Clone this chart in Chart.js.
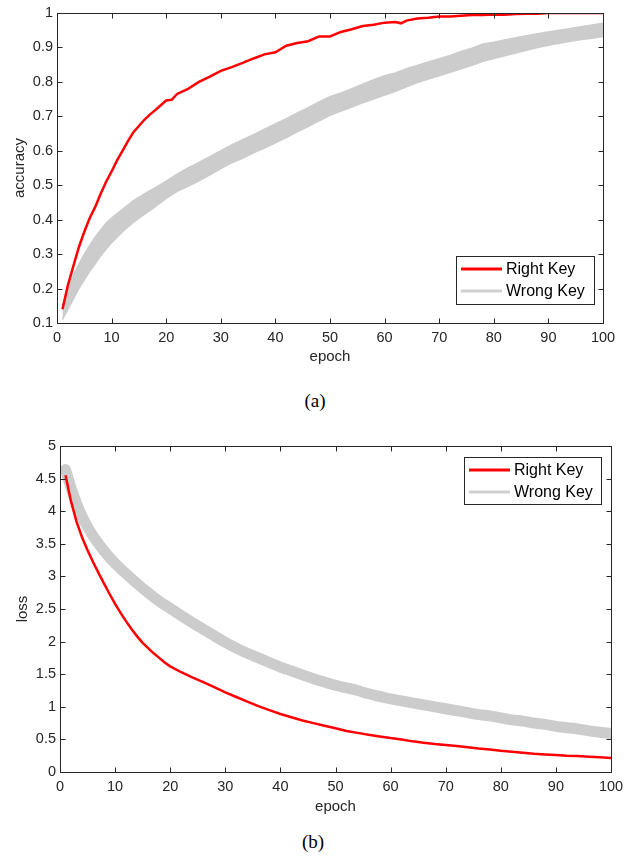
<!DOCTYPE html>
<html>
<head>
<meta charset="utf-8">
<title>Right key vs wrong key · accuracy and loss per epoch</title>
<script src="https://cdn.jsdelivr.net/npm/chart.js@4.4.1/dist/chart.umd.min.js"></script>
<style>
  html, body { margin: 0; padding: 0; background: #fff; }
  #page { position: relative; width: 633px; height: 856px; overflow: hidden; }
  #page canvas { position: absolute; left: 0; }
  #accChart { top: 0; }
  #lossChart { top: 420px; }
  .caption {
    position: absolute; width: 40px; text-align: center;
    font-family: 'Liberation Serif', 'Times New Roman', serif;
    font-size: 19px; line-height: 20px; color: #000;
  }
</style>
</head>
<body>
<div id="page">
  <canvas id="accChart" width="633" height="375"></canvas>
  <div class="caption" style="left:295px; top:391px;">(a)</div>
  <canvas id="lossChart" width="633" height="404"></canvas>
  <div class="caption" style="left:293px; top:832px;">(b)</div>
</div>

<script>
/* ---------- data ---------- */

const SERIES_LABELS = ['Right Key', 'Wrong Key'];
const EPOCH_TICKS = [0, 100, 10];          // min, max, step
const ACC_TICKS   = [0.1, 1, 0.1];
const LOSS_TICKS  = [0, 5, 0.5];

// (a) accuracy — right key
const ACC_RIGHT_EPOCH = [1, 2, 3, 4, 5, 6, 7, 8, 9, 10, 11, 12, 13, 14, 15, 16, 17, 18, 19, 20, 21, 22,
  24, 26, 28, 30, 32, 34, 36, 38, 40, 42, 44, 46, 48, 50, 52, 54, 56, 58, 60, 62, 63,
  64, 66, 68, 70, 72, 74, 76, 78, 80, 82, 84, 86, 88, 90, 92, 94, 96, 98, 100];
const ACC_RIGHT = [0.14, 0.21, 0.265, 0.32, 0.365, 0.405, 0.437, 0.475, 0.51, 0.54,
  0.572, 0.60, 0.628, 0.654, 0.672, 0.69, 0.705, 0.718, 0.732, 0.746,
  0.748, 0.765,
  0.78, 0.80, 0.815, 0.832, 0.843, 0.855, 0.868, 0.88, 0.886, 0.905,
  0.913, 0.918, 0.932, 0.932, 0.945, 0.953, 0.962, 0.966, 0.972, 0.974,
  0.97,
  0.978, 0.984, 0.986, 0.99, 0.99, 0.992, 0.994, 0.994, 0.996, 0.995,
  0.997, 0.998, 0.998, 1.0, 1.0, 1.0, 1.0, 1.0, 1.0];

// (a) accuracy — wrong keys, upper and lower edge of the grey bundle
const ACC_WRONG_EPOCH = [1, 2, 3, 4, 5, 6, 7, 8, 9, 10,
  12, 14, 16, 18, 20, 22, 24, 26, 28, 30, 32, 34, 36, 38, 40, 42, 44, 46, 48, 50,
  52, 54, 56, 58, 60, 62, 64, 66, 68, 70, 72, 74, 76, 78, 80, 82, 84, 86, 88, 90,
  92, 94, 96, 98, 100];
const ACC_WRONG_HI = [0.15, 0.20, 0.24, 0.27, 0.30, 0.325, 0.35, 0.37, 0.39, 0.405,
  0.43, 0.455, 0.475, 0.493, 0.512, 0.532, 0.55, 0.566, 0.583, 0.60,
  0.617, 0.632, 0.647, 0.663, 0.678, 0.693, 0.71, 0.725, 0.742, 0.757,
  0.768, 0.78, 0.793, 0.806, 0.818, 0.826, 0.838, 0.848, 0.858, 0.867,
  0.877, 0.888, 0.898, 0.91, 0.915, 0.922, 0.928, 0.934, 0.94, 0.945,
  0.95, 0.955, 0.96, 0.965, 0.97];
const ACC_WRONG_LO = [0.11, 0.14, 0.17, 0.20, 0.225, 0.25, 0.272, 0.295, 0.315, 0.333,
  0.365, 0.393, 0.415, 0.438, 0.462, 0.482, 0.497, 0.513, 0.53, 0.548,
  0.565, 0.578, 0.594, 0.608, 0.623, 0.638, 0.655, 0.67, 0.687, 0.703,
  0.715, 0.727, 0.739, 0.75, 0.762, 0.773, 0.786, 0.798, 0.808, 0.818,
  0.828, 0.838, 0.848, 0.86, 0.868, 0.876, 0.884, 0.892, 0.9, 0.906,
  0.912, 0.918, 0.923, 0.927, 0.932];

// (b) loss — right key
const LOSS_RIGHT_EPOCH = [1, 2, 3, 4, 5, 6, 7, 8, 9, 10, 11, 12, 13, 14, 15, 16, 17, 18, 19, 20,
  22, 24, 26, 28, 30, 32, 34, 36, 38, 40, 42, 44, 46, 48, 50, 52, 54, 56, 58, 60,
  62, 64, 66, 68, 70, 72, 74, 76, 78, 80, 82, 84, 86, 88, 90, 92, 94, 96, 98, 100];
const LOSS_RIGHT = [4.55, 4.15, 3.84, 3.6, 3.4, 3.22, 3.05, 2.89, 2.73, 2.58,
  2.44, 2.31, 2.19, 2.08, 1.98, 1.9, 1.82, 1.75, 1.68, 1.62,
  1.53, 1.45, 1.38, 1.3, 1.22, 1.15, 1.08, 1.01, 0.95, 0.89,
  0.84, 0.79, 0.75, 0.71, 0.67, 0.63, 0.6, 0.57, 0.545, 0.52,
  0.5, 0.47, 0.45, 0.43, 0.415, 0.4, 0.38, 0.36, 0.345, 0.325,
  0.31, 0.295, 0.28, 0.27, 0.26, 0.25, 0.245, 0.235, 0.225, 0.215];

// (b) loss — wrong keys, centre of the grey bundle
const LOSS_WRONG_EPOCH = ACC_WRONG_EPOCH;
const LOSS_WRONG = [4.64, 4.36, 4.12, 3.92, 3.76, 3.62, 3.5, 3.39, 3.29, 3.2,
  3.04, 2.89, 2.75, 2.62, 2.51, 2.4, 2.29, 2.19, 2.09, 1.99,
  1.9, 1.82, 1.75, 1.68, 1.61, 1.55, 1.49, 1.43, 1.38, 1.33,
  1.29, 1.25, 1.2, 1.16, 1.12, 1.09, 1.06, 1.03, 1.0, 0.97,
  0.94, 0.91, 0.88, 0.86, 0.83, 0.8, 0.78, 0.75, 0.73, 0.7,
  0.68, 0.66, 0.63, 0.61, 0.59];

(function () {
  'use strict';

  const FONT = "'Liberation Sans', Arial, Helvetica, sans-serif";
  const INK  = '#262626';
  const RED  = '#ff0000';
  const GREY = '#cccccc';

  const pts = (xs, ys) => xs.map((x, i) => ({ x: x, y: ys[i] }));
  const fmt = (v) => String(Math.round(v * 10) / 10);

  // MATLAB-ish box: frame all round, ticks pointing inward on every side
  const matlabBox = {
    id: 'matlabBox',
    afterDatasetsDraw(chart) {
      const { ctx, chartArea: a, scales } = chart;
      const L = Math.round(a.left) + 0.5, R = Math.round(a.right) + 0.5;
      const T = Math.round(a.top) + 0.5,  B = Math.round(a.bottom) + 0.5;
      ctx.save();
      ctx.strokeStyle = INK;
      ctx.lineWidth = 1;
      ctx.strokeRect(L, T, R - L, B - T);
      ctx.beginPath();
      scales.x.ticks.forEach((t) => {
        const px = Math.round(scales.x.getPixelForValue(t.value)) + 0.5;
        ctx.moveTo(px, B); ctx.lineTo(px, B - 5);
        ctx.moveTo(px, T); ctx.lineTo(px, T + 5);
      });
      scales.y.ticks.forEach((t) => {
        const py = Math.round(scales.y.getPixelForValue(t.value)) + 0.5;
        ctx.moveTo(L, py); ctx.lineTo(L + 5, py);
        ctx.moveTo(R, py); ctx.lineTo(R - 5, py);
      });
      ctx.stroke();
      ctx.restore();
    },
  };

  // boxed legend sitting inside the plot area
  const boxLegend = {
    id: 'boxLegend',
    afterDraw(chart, args, o) {
      const { ctx, chartArea: a } = chart;
      const x = Math.round(a.right - o.right - o.width);
      const y = Math.round(o.top != null ? a.top + o.top : a.bottom - o.bottom - o.height);
      ctx.save();
      ctx.fillStyle = '#fff';
      ctx.fillRect(x, y, o.width, o.height);
      ctx.strokeStyle = INK;
      ctx.lineWidth = 1;
      ctx.strokeRect(x + 0.5, y + 0.5, o.width, o.height);
      ctx.font = '16px ' + FONT;
      ctx.textBaseline = 'middle';
      o.items.forEach((it, i) => {
        const ly = y + o.rows[i];
        ctx.strokeStyle = it.color;
        ctx.lineWidth = 3;
        ctx.beginPath();
        ctx.moveTo(x + 5, ly);
        ctx.lineTo(x + 46, ly);
        ctx.stroke();
        ctx.fillStyle = '#000';
        ctx.fillText(it.label, x + 50, ly + 1);
      });
      ctx.restore();
    },
  };

  function axes(yTicks, yTitle, yWidth, yTitlePad, xTitlePad) {
    return {
      x: {
        type: 'linear', min: EPOCH_TICKS[0], max: EPOCH_TICKS[1],
        grid: { display: false, drawTicks: false }, border: { display: false },
        ticks: { stepSize: EPOCH_TICKS[2], padding: 6, color: INK, autoSkip: false, maxRotation: 0,
                 font: { family: FONT, size: 14.5 } },
        title: { display: true, text: 'epoch', color: INK, font: { family: FONT, size: 15 },
                 padding: { top: 0, bottom: xTitlePad } },
        afterFit: (s) => { s.height = 52; },
      },
      y: {
        type: 'linear', min: yTicks[0], max: yTicks[1],
        grid: { display: false, drawTicks: false }, border: { display: false },
        ticks: { stepSize: yTicks[2], padding: 4, color: INK, autoSkip: false, callback: fmt,
                 font: { family: FONT, size: 14.5 } },
        title: { display: true, text: yTitle, color: INK, font: { family: FONT, size: 15 },
                 padding: { top: yTitlePad, bottom: 0 } },
        afterFit: (s) => { s.width = yWidth; },
      },
    };
  }

  const legendItems = [
    { label: SERIES_LABELS[0], color: RED },
    { label: SERIES_LABELS[1], color: '#d0d0d0' },
  ];

  function init() {
    if (typeof Chart === 'undefined') {
      setTimeout(init, 50);
      return;
    }

    /* ---------- (a) accuracy ---------- */
    new Chart(document.getElementById('accChart'), {
      type: 'line',
      data: {
        datasets: [
          { label: SERIES_LABELS[0], data: pts(ACC_RIGHT_EPOCH, ACC_RIGHT),
            borderColor: RED, borderWidth: 2.5, pointRadius: 0, fill: false },
          { label: SERIES_LABELS[1], data: pts(ACC_WRONG_EPOCH, ACC_WRONG_HI),
            borderColor: GREY, borderWidth: 1.5, pointRadius: 0, fill: false },
          { label: SERIES_LABELS[1] + ' (low)', data: pts(ACC_WRONG_EPOCH, ACC_WRONG_LO),
            borderColor: GREY, borderWidth: 1.5, pointRadius: 0,
            fill: '-1', backgroundColor: GREY },
        ],
      },
      options: {
        responsive: false,
        animation: false,
        events: [],
        layout: { padding: { left: 0, right: 30, top: 13, bottom: 0 } },
        scales: axes(ACC_TICKS, 'accuracy', 57, 11, 9),
        plugins: {
          legend: { display: false },
          tooltip: { enabled: false },
          boxLegend: { items: legendItems, width: 138, height: 48, right: 9, bottom: 19, rows: [13, 35] },
        },
      },
      plugins: [matlabBox, boxLegend],
    });

    /* ---------- (b) loss ---------- */
    new Chart(document.getElementById('lossChart'), {
      type: 'line',
      data: {
        datasets: [
          { label: SERIES_LABELS[0], data: pts(LOSS_RIGHT_EPOCH, LOSS_RIGHT),
            borderColor: RED, borderWidth: 2.5, pointRadius: 0, fill: false },
          { label: SERIES_LABELS[1], data: pts(LOSS_WRONG_EPOCH, LOSS_WRONG),
            borderColor: GREY, borderWidth: 11, borderCapStyle: 'round', borderJoinStyle: 'round',
            cubicInterpolationMode: 'monotone', pointRadius: 0, fill: false },
        ],
      },
      options: {
        responsive: false,
        animation: false,
        events: [],
        layout: { padding: { left: 0, right: 22, top: 26, bottom: 0 } },
        scales: axes(LOSS_TICKS, 'loss', 60, 14, 8.5),
        plugins: {
          legend: { display: false },
          tooltip: { enabled: false },
          boxLegend: { items: legendItems, width: 137, height: 47, right: 10, top: 11, rows: [13, 35] },
        },
      },
      plugins: [matlabBox, boxLegend],
    });
  }

  if (document.readyState === 'loading') {
    document.addEventListener('DOMContentLoaded', init);
  } else {
    init();
  }
})();
</script>
</body>
</html>
